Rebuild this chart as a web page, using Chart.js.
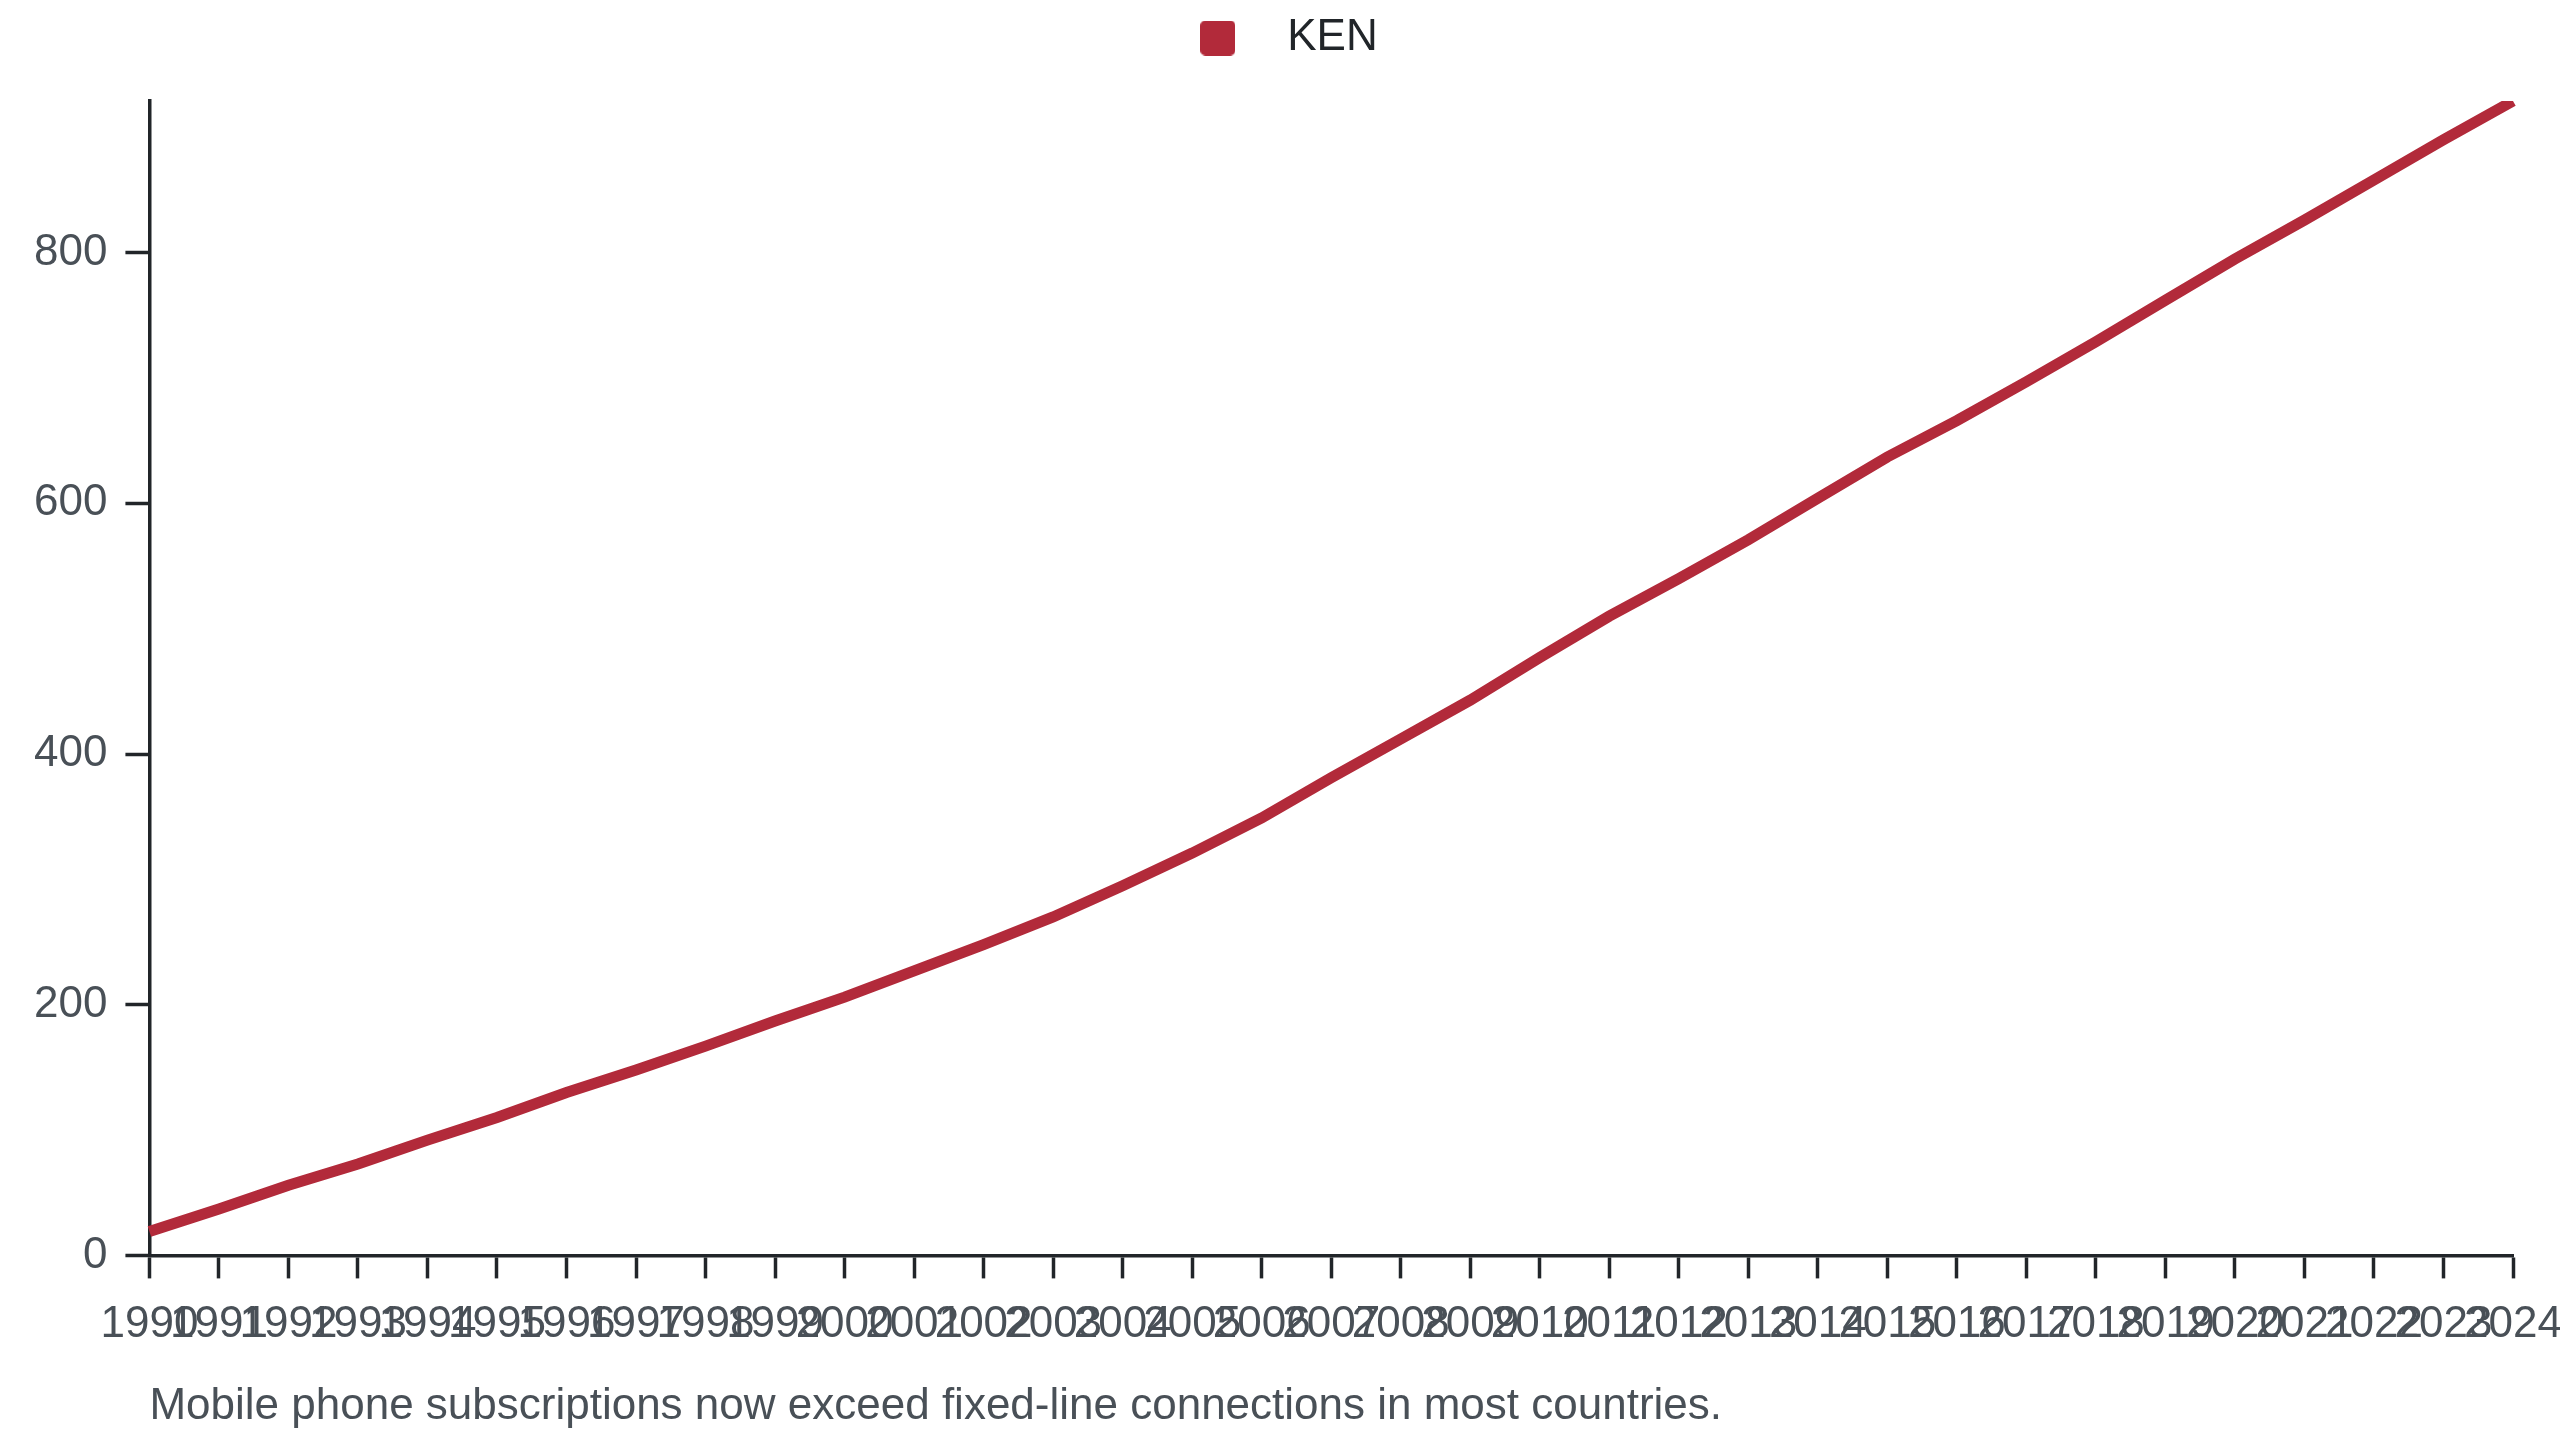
<!DOCTYPE html>
<html>
<head>
<meta charset="utf-8">
<script src="https://cdn.jsdelivr.net/npm/chart.js@4.4.1/dist/chart.umd.min.js"></script>
<style>
  html, body { margin: 0; padding: 0; background: #ffffff; }
  #wrap { width: 2560px; height: 1440px; }
</style>
</head>
<body>
<div id="wrap"><canvas id="chart"></canvas></div>
<script>
const years = ["1990", "1991", "1992", "1993", "1994", "1995", "1996", "1997", "1998", "1999",
    "2000", "2001", "2002", "2003", "2004", "2005", "2006", "2007", "2008", "2009",
    "2010", "2011", "2012", "2013", "2014", "2015", "2016", "2017", "2018", "2019",
    "2020", "2021", "2022", "2023", "2024"];
const kenValues = [19, 37, 56, 73, 92, 110, 130, 148, 167, 187,
    206, 227, 248, 270, 295, 321, 349, 381, 412, 443,
    477, 510, 540, 571, 604, 637, 666, 697, 729, 762,
    795, 826, 858, 890, 921];
const seriesName = "KEN";
const caption = "Mobile phone subscriptions now exceed fixed-line connections in most countries.";

const axisColor = "#212529";
const labelColor = "#495057";
const lineColor = "#b22a3a";
const fontFamily = "'Liberation Sans', Arial, sans-serif";

// small rounded square used as the legend swatch
function makeSwatch() {
    const c = document.createElement("canvas");
    c.width = 35;
    c.height = 35;
    const g = c.getContext("2d");
    g.fillStyle = lineColor;
    g.beginPath();
    g.roundRect(0, 0, 35, 35, 5);
    g.fill();
    return c;
}

// extra room between legend and plot
const legendGap = {
    id: 'legendGap',
    beforeInit(chart) {
        const fit = chart.legend.fit;
        chart.legend.fit = function() {
            fit.bind(chart.legend)();
            this.height += 31;
        };
    }
};

document.addEventListener("DOMContentLoaded", function() {
    const ctx = document.getElementById("chart").getContext("2d");
    new Chart(ctx, {
        type: 'line',
        data: {
            labels: years,
            datasets: [{
                label: seriesName,
                data: kenValues,
                borderColor: lineColor,
                backgroundColor: lineColor,
                borderWidth: 11,
                pointRadius: 0,
                tension: 0,
                fill: false
            }]
        },
        plugins: [legendGap],
        options: {
            responsive: true,
            maintainAspectRatio: false,
            animation: false,
            layout: { padding: { top: 5, left: 16, right: 28, bottom: 0 } },
            plugins: {
                legend: {
                    position: 'top',
                    labels: {
                        color: axisColor,
                        font: { size: 44, family: fontFamily },
                        usePointStyle: true,
                        pointStyle: makeSwatch(),
                        pointStyleWidth: 95,
                        boxHeight: 35,
                        padding: 11
                    }
                },
                subtitle: {
                    display: true,
                    text: caption,
                    position: 'bottom',
                    align: 'start',
                    fullSize: false,
                    color: labelColor,
                    font: { size: 44, weight: 'normal', family: fontFamily },
                    padding: { top: 9, bottom: 7 }
                },
                tooltip: { enabled: false }
            },
            scales: {
                x: {
                    afterFit(axis) {
                        // keep the plot close to the right edge
                        axis.paddingRight = 47;
                    },
                    grid: {
                        drawOnChartArea: false,
                        tickLength: 23,
                        tickWidth: 3.5,
                        tickColor: axisColor
                    },
                    border: { color: axisColor, width: 3.5 },
                    ticks: {
                        color: labelColor,
                        font: { size: 44, family: fontFamily },
                        autoSkip: false,
                        maxRotation: 0,
                        minRotation: 0,
                        padding: 20
                    }
                },
                y: {
                    min: 0,
                    max: Math.max(...kenValues),
                    grid: {
                        drawOnChartArea: false,
                        tickLength: 24,
                        tickWidth: 3.5,
                        tickColor: axisColor
                    },
                    border: { color: axisColor, width: 3.5 },
                    ticks: {
                        color: labelColor,
                        font: { size: 44, family: fontFamily },
                        stepSize: 200,
                        includeBounds: false,
                        padding: 18
                    }
                }
            }
        }
    });
});
</script>
</body>
</html>
